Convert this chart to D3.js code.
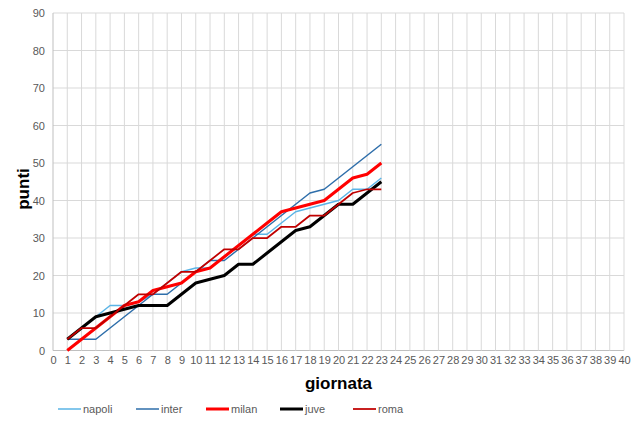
<!DOCTYPE html>
<html><head><meta charset="utf-8">
<script src="https://cdn.jsdelivr.net/npm/d3@7"></script>
<style>body{margin:0;background:#fff}svg{display:block}</style>
</head><body><svg id="c" width="640" height="421"></svg>
<script>
const giornate = d3.range(1, 24);
const xTicks = d3.range(0, 41);
const yTicks = d3.range(0, 91, 10);
const seriesNames = ["napoli", "inter", "milan", "juve", "roma"];
const napoli = [3,6,9,12,12,13,15,18,21,22,22,25,28,31,31,34,37,38,39,40,43,43,46];
const inter  = [3,3,3,6,9,12,15,15,18,21,24,24,27,30,33,36,39,42,43,46,49,52,55];
const milan  = [0,3,6,9,12,13,16,17,18,21,22,25,28,31,34,37,38,39,40,43,46,47,50];
const juve   = [3,6,9,10,11,12,12,12,15,18,19,20,23,23,26,29,32,33,36,39,39,42,45];
const roma   = [3,6,6,9,12,15,15,18,21,21,24,27,27,30,30,33,33,36,36,39,42,43,43];
const values = [napoli, inter, milan, juve, roma];
const colors = ["#5ab4e6", "#2e6eaa", "#ff0000", "#000000", "#c00000"];
const widths = [1.5, 1.5, 3, 3, 1.75];

const svg = d3.select("#c");
const L = 53, R = 624, T = 13, B = 350.5;
const x = d3.scaleLinear().domain([0, 40]).range([L, R]);
const y = d3.scaleLinear().domain([0, 90]).range([B, T]);

// grid
svg.append("g").selectAll("line").data(yTicks).join("line")
  .attr("x1", L).attr("x2", R).attr("y1", d => y(d)).attr("y2", d => y(d))
  .attr("stroke", d => d === 0 ? "#bfbfbf" : "#d9d9d9").attr("stroke-width", 1);
svg.append("g").selectAll("line").data(xTicks).join("line")
  .attr("x1", d => x(d)).attr("x2", d => x(d)).attr("y1", T).attr("y2", B)
  .attr("stroke", d => d === 0 ? "#bfbfbf" : "#d9d9d9").attr("stroke-width", 1);

// axes
const ya = svg.append("g").attr("transform", `translate(${L},0)`)
  .call(d3.axisLeft(y).tickValues(yTicks).tickSize(0).tickPadding(8));
ya.select(".domain").remove();
const xa = svg.append("g").attr("transform", `translate(0,${B})`)
  .call(d3.axisBottom(x).tickValues(xTicks).tickSize(0).tickPadding(6));
xa.select(".domain").remove();
svg.selectAll(".tick text").attr("font-family", "Liberation Sans, Arial, sans-serif")
  .attr("font-size", 11).attr("fill", "#595959");

// titles
svg.append("text").attr("x", (L + R) / 2).attr("y", 389).attr("text-anchor", "middle")
  .attr("font-family", "Liberation Sans, Arial, sans-serif").attr("font-weight", "bold")
  .attr("font-size", 17).attr("fill", "#000").text("giornata");
svg.append("text").attr("transform", `translate(23,189) rotate(-90)`)
  .attr("text-anchor", "middle").attr("dy", "0.35em")
  .attr("font-family", "Liberation Sans, Arial, sans-serif").attr("font-weight", "bold")
  .attr("font-size", 17).attr("fill", "#000").text("punti");

// lines
const line = d3.line().x((d, i) => x(giornate[i])).y(d => y(d));
values.forEach((vals, k) => {
  svg.append("path").datum(vals).attr("d", line).attr("fill", "none")
    .attr("stroke", colors[k]).attr("stroke-width", widths[k])
    .attr("stroke-linejoin", "round");
});

// legend
const legX = [58, 136, 206, 280, 353];
const lg = svg.append("g");
seriesNames.forEach((n, k) => {
  lg.append("line").attr("x1", legX[k]).attr("x2", legX[k] + 23).attr("y1", 409).attr("y2", 409)
    .attr("stroke", colors[k]).attr("stroke-width", widths[k]);
  lg.append("text").attr("x", legX[k] + 25).attr("y", 409).attr("dy", "0.35em")
    .attr("font-family", "Liberation Sans, Arial, sans-serif").attr("font-size", 11)
    .attr("fill", "#595959").text(n);
});
</script></body></html>
